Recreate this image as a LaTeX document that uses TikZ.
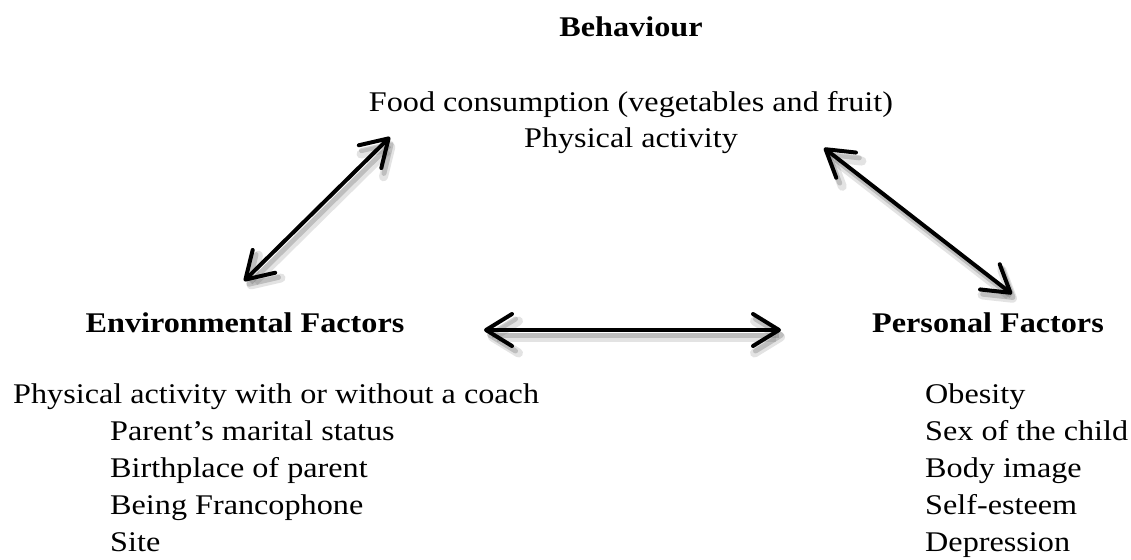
\documentclass[tikz,border=0pt]{standalone}
\usepackage{fontspec}
\setmainfont[FakeStretch=1.13]{Liberation Serif}
\usetikzlibrary{arrows.meta}
\newcommand{\pointe}[0]{Straight Barb[length=26pt,width=32pt,round]}
\newcommand{\fleche}[2]{\draw[ombre,line width=9pt,opacity=0.18,transform canvas={shift={(4pt,-7pt)}}] (#1) -- (#2);
	\draw[ombre,line width=5pt,opacity=0.3,transform canvas={shift={(3pt,-5pt)}}] (#1) -- (#2);
	\draw[lien] (#1) -- (#2)}

\begin{document}
\begin{tikzpicture}[x=1pt,y=-1pt,
	every node/.style={font=\fontsize{28.5}{37}\selectfont,inner sep=0pt},
	titre/.style={font=\fontsize{28.5}{37}\selectfont\bfseries},
	lien/.style={line width=4pt,{\pointe}-{\pointe}},
	ombre/.style={lien,black!60}]
	\useasboundingbox (0,0) rectangle (1131,559);
	\node[titre,anchor=base] (behav) at (631,37) {Behaviour};
	\node[anchor=base] (food) at (631,111) {Food consumption (vegetables and fruit)};
	\node[anchor=base] (phys) at (631,147) {Physical activity};
	\node[titre,anchor=base] (env) at (245,332) {Environmental Factors};
	\node[titre,anchor=base] (pers) at (988,332) {Personal Factors};
	% environmental list
	\node[anchor=base west] (e1) at (13,403) {Physical activity with or without a coach};
	\node[anchor=base west] (e2) at (110,440) {Parent’s marital status};
	\node[anchor=base west] (e3) at (110,477) {Birthplace of parent};
	\node[anchor=base west] (e4) at (110,514) {Being Francophone};
	\node[anchor=base west] (e5) at (110,551) {Site};
	% personal list
	\node[anchor=base west] (p1) at (925,403) {Obesity};
	\node[anchor=base west] (p2) at (925,440) {Sex of the child};
	\node[anchor=base west] (p3) at (925,477) {Body image};
	\node[anchor=base west] (p4) at (925,514) {Self-esteem};
	\node[anchor=base west] (p5) at (925,551) {Depression};
	% arrows
	\fleche{[shift={(-241,26)}]food.base}{[shift={(-1,-51)}]env.base};
	\fleche{[shift={(193,37)}]food.base}{[shift={(24,-38)}]pers.base};
	\fleche{[shift={(239,-2)}]env.base}{[shift={(-207,-2)}]pers.base};
\end{tikzpicture}
\end{document}
